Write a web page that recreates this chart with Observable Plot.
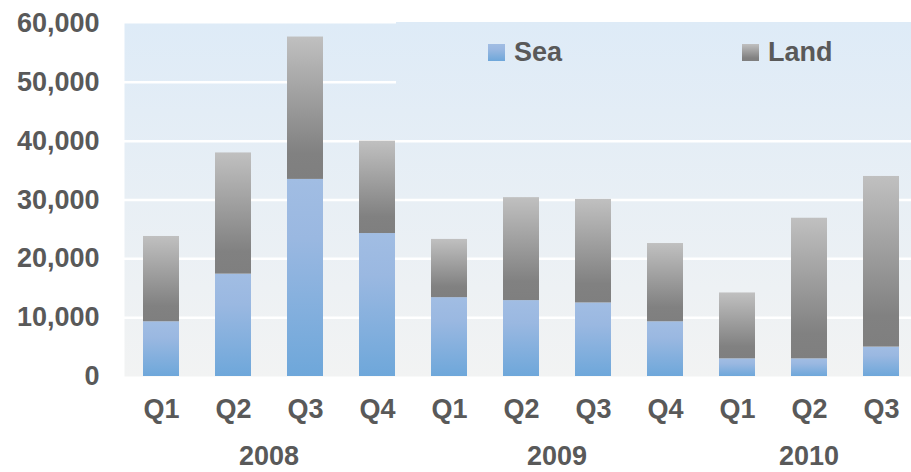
<!DOCTYPE html>
<html><head><meta charset="utf-8">
<script src="https://cdn.jsdelivr.net/npm/d3@7"></script>
<script src="https://cdn.jsdelivr.net/npm/@observablehq/plot@0.6"></script>
<style>
body{margin:0;background:#fff;}
#chart svg{display:block;}
</style>
</head><body><div id="chart"></div>
<script>
const years = ["2008", "2009", "2010"];
const quarters = [["Q1","Q2","Q3","Q4"], ["Q1","Q2","Q3","Q4"], ["Q1","Q2","Q3"]];
const sea  = [9300, 17400, 33500, 24300, 13400, 12900, 12500, 9300, 3000, 3000, 5000];
const land = [14500, 20600, 24200, 15700, 9900, 17500, 17600, 13300, 11200, 23900, 29000];
const seriesNames = ["Sea", "Land"];
const yTicks = [0, 10000, 20000, 30000, 40000, 50000, 60000];
const gridTicks = [10000, 20000, 30000, 40000, 50000];

const keys = years.flatMap((y, i) => quarters[i].map(q => `${y} ${q}`));
const data = keys.flatMap((k, i) => [
  {key: k, series: "Sea", value: sea[i]},
  {key: k, series: "Land", value: land[i]}
]);

const W = 911, H = 472;
const textColor = "#595959";
const font = "'Liberation Sans', Arial, sans-serif";

const defsMark = () => {
  const defs = d3.create("svg:defs");
  const bg = defs.append("linearGradient").attr("id", "bgGrad")
    .attr("gradientUnits", "userSpaceOnUse").attr("x1", 0).attr("x2", 0).attr("y1", 23).attr("y2", 376);
  bg.append("stop").attr("offset", 0).attr("stop-color", "#deebf7");
  bg.append("stop").attr("offset", 1).attr("stop-color", "#f2f3f3");
  const s = defs.append("linearGradient").attr("id", "seaGrad").attr("x1", 0).attr("x2", 0).attr("y1", 0).attr("y2", 1);
  s.append("stop").attr("offset", 0).attr("stop-color", "#a1bde3");
  s.append("stop").attr("offset", 0.3).attr("stop-color", "#9ab8e1");
  s.append("stop").attr("offset", 1).attr("stop-color", "#6ea7da");
  const l = defs.append("linearGradient").attr("id", "landGrad").attr("x1", 0).attr("x2", 0).attr("y1", 0).attr("y2", 1);
  l.append("stop").attr("offset", 0).attr("stop-color", "#c0c0c0");
  l.append("stop").attr("offset", 0.82).attr("stop-color", "#818181");
  l.append("stop").attr("offset", 1).attr("stop-color", "#7f7f7f");
  return defs.node();
};

const legendMark = () => {
  const g = d3.create("svg:g");
  g.append("rect").attr("x", 396).attr("y", 22).attr("width", W - 396).attr("height", 80).attr("fill", "url(#bgGrad)");
  const items = [
    {name: seriesNames[0], fill: "url(#seaGrad)", x: 488},
    {name: seriesNames[1], fill: "url(#landGrad)", x: 742}
  ];
  for (const it of items) {
    g.append("rect").attr("x", it.x).attr("y", 44).attr("width", 17).attr("height", 17).attr("fill", it.fill);
    g.append("text").attr("x", it.x + 26).attr("y", 61).attr("text-anchor", "start")
      .attr("fill", textColor).attr("font-size", 27).attr("font-weight", "bold")
      .attr("font-family", font).text(it.name);
  }
  return g.node();
};

const yearMark = (index, scales) => {
  const x = scales.x;
  const bw = typeof x.bandwidth === "function" ? x.bandwidth() : (x.bandwidth ?? 36);
  const g = d3.create("svg:g");
  years.forEach((yr, i) => {
    const qs = quarters[i].map(q => `${yr} ${q}`);
    const cx = (x(qs[0]) + x(qs[qs.length - 1]) + bw) / 2;
    g.append("text").attr("x", cx).attr("y", 465).attr("text-anchor", "middle")
      .attr("fill", textColor).attr("font-size", 27).attr("font-weight", "bold")
      .attr("font-family", font).text(yr);
  });
  return g.node();
};

const chart = Plot.plot({
  width: W,
  height: H,
  marginLeft: 124,
  marginRight: 0,
  marginTop: 23,
  marginBottom: 96,
  style: {fontFamily: font, fontSize: "27px", fontWeight: "bold", color: textColor, background: "#fff"},
  x: {domain: keys, range: [125, 917], paddingInner: 0.5, paddingOuter: 0.25, axis: null},
  y: {domain: [0, 60000], axis: null},
  color: {domain: seriesNames, range: ["url(#seaGrad)", "url(#landGrad)"]},
  marks: [
    defsMark,
    Plot.frame({fill: "url(#bgGrad)", stroke: null}),
    Plot.gridY(gridTicks, {stroke: "#ffffff", strokeOpacity: 1, strokeWidth: 2.5}),
    legendMark,
    Plot.barY(data, {x: "key", y: "value", fill: "series", order: seriesNames}),
    Plot.axisY(yTicks, {tickSize: 0, tickPadding: 25, tickFormat: d3.format(","), label: null, fontSize: 27, fontWeight: "bold", fill: textColor}),
    Plot.axisX({tickSize: 0, tickPadding: 22, tickFormat: d => d.split(" ")[1], label: null, fontSize: 27, fontWeight: "bold", fill: textColor}),
    yearMark
  ]
});
document.getElementById("chart").appendChild(chart);
</script>
</body></html>
